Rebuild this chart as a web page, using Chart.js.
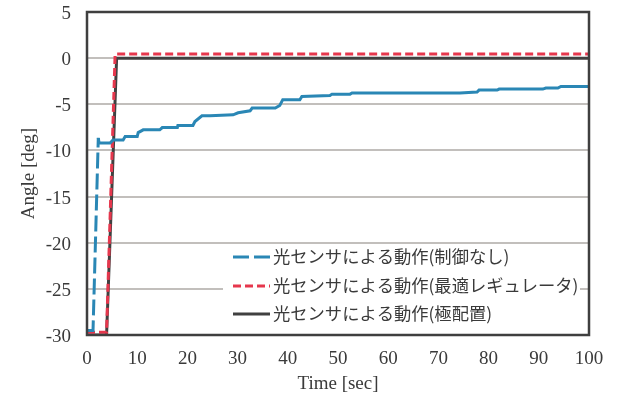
<!DOCTYPE html>
<html lang="ja">
<head>
<meta charset="utf-8">
<title>Angle response</title>
<script src="https://cdn.jsdelivr.net/npm/chart.js@4.4.1/dist/chart.umd.min.js"></script>
<style>
  html, body { margin: 0; padding: 0; background: #ffffff; }
  #wrap { width: 619px; height: 399px; position: relative; }
</style>
</head>
<body>
<div id="wrap"><canvas id="chart"></canvas></div>
<script>
// Series labels
const seriesLabels = [
  '光センサによる動作(制御なし)',
  '光センサによる動作(最適レギュレータ)',
  '光センサによる動作(極配置)'
];

// Uncontrolled run: time [sec] and angle [deg]
const timeNoCtrl = [0, 1.2, 2.25, 2.4, 4.6, 5.2, 7.2, 7.6, 10.0, 10.2, 11.2, 14.5, 15.0, 18.0, 18.1, 21.1, 21.5, 22.9, 24.5, 29.1, 30.1, 32.5, 32.9, 37.5, 38.4, 39.0, 42.4, 42.8, 48.4, 48.8, 52.4, 52.8, 74.3, 77.7, 78.1, 81.7, 82.1, 90.8, 91.4, 93.8, 94.4, 100];
const angleNoCtrl = [-29.5, -29.5, -8.64, -9.2, -9.2, -8.86, -8.86, -8.5, -8.5, -8.07, -7.77, -7.77, -7.52, -7.52, -7.3, -7.3, -6.87, -6.25, -6.25, -6.14, -5.92, -5.7, -5.41, -5.41, -5.13, -4.5, -4.5, -4.15, -4.05, -3.9, -3.9, -3.78, -3.78, -3.67, -3.46, -3.46, -3.35, -3.35, -3.24, -3.24, -3.07, -3.07];

// Optimal regulator run
const timeLqr = [0, 3.9, 5.6, 100];
const angleLqr = [-29.7, -29.7, 0.45, 0.45];

// Pole placement run
const timePole = [0, 3.9, 5.9, 100];
const anglePole = [-30, -30, 0, 0];

// Axis ticks
const xTicks = [0, 10, 20, 30, 40, 50, 60, 70, 80, 90, 100];
const yTicks = [5, 0, -5, -10, -15, -20, -25, -30];

const toPoints = (xs, ys) => xs.map((x, i) => ({ x: x, y: ys[i] }));

const serif = 'Liberation Serif, Times New Roman, serif';
const textColor = '#3a3a3a';

// Legend drawn inside the plot area, lower right, on a white panel
const innerLegend = {
  id: 'innerLegend',
  afterDatasetsDraw(chart) {
    const ctx = chart.ctx;
    const area = chart.chartArea;
    const boxLeft = 223, boxTop = 245;
    const boxRight = area.right - 9, boxBottom = area.bottom - 2;
    ctx.save();
    ctx.fillStyle = '#ffffff';
    ctx.fillRect(boxLeft, boxTop, boxRight - boxLeft, boxBottom - boxTop);
    const rows = [256, 285, 313];
    ctx.font = '17.3px "Noto Sans CJK JP", sans-serif';
    ctx.textBaseline = 'middle';
    ctx.textAlign = 'left';
    chart.data.datasets.forEach((ds, i) => {
      const y = rows[i];
      ctx.beginPath();
      ctx.setLineDash(ds.borderDash || []);
      ctx.lineDashOffset = 0;
      ctx.strokeStyle = ds.borderColor;
      ctx.lineWidth = ds.borderWidth;
      ctx.lineCap = 'butt';
      ctx.moveTo(233, y + 1);
      ctx.lineTo(270, y + 1);
      ctx.stroke();
      ctx.setLineDash([]);
      ctx.fillStyle = textColor;
      ctx.fillText(ds.label, 273, y);
    });
    ctx.restore();
  },
  afterDraw(chart) {
    // Plot frame
    const ctx = chart.ctx;
    const a = chart.chartArea;
    ctx.save();
    ctx.strokeStyle = '#3f3f3f';
    ctx.lineWidth = 2.5;
    ctx.strokeRect(a.left, a.top, a.right - a.left, a.bottom - a.top);
    ctx.restore();
  }
};

new Chart(document.getElementById('chart'), {
  type: 'line',
  data: {
    datasets: [
      {
        label: seriesLabels[0],
        data: toPoints(timeNoCtrl, angleNoCtrl),
        borderColor: '#2a87b5',
        borderWidth: 3,
        borderDash: [16, 5],
        segment: {
          borderDash: ctx => (ctx.p0DataIndex >= 2 ? [] : undefined)
        },
        pointRadius: 0,
        tension: 0,
        fill: false
      },
      {
        label: seriesLabels[1],
        data: toPoints(timeLqr, angleLqr),
        borderColor: '#e6374d',
        borderWidth: 3,
        borderDash: [8, 4],
        pointRadius: 0,
        tension: 0,
        fill: false
      },
      {
        label: seriesLabels[2],
        data: toPoints(timePole, anglePole),
        borderColor: '#404040',
        borderWidth: 3,
        pointRadius: 0,
        tension: 0,
        fill: false
      }
    ]
  },
  options: {
    responsive: true,
    maintainAspectRatio: false,
    animation: false,
    layout: { padding: { top: 12, right: 30, left: 0, bottom: 0 } },
    plugins: {
      legend: { display: false },
      tooltip: { enabled: false }
    },
    scales: {
      x: {
        type: 'linear',
        min: 0,
        max: 100,
        afterFit: s => { s.height = 64; s.paddingLeft = 0; s.paddingRight = 0; },
        afterBuildTicks: s => { s.ticks = xTicks.map(v => ({ value: v })); },
        grid: { display: false, drawTicks: false },
        border: { display: false },
        ticks: {
          padding: 13,
          color: textColor,
          font: { family: serif, size: 19 },
          maxRotation: 0
        },
        title: {
          display: true,
          text: 'Time [sec]',
          color: textColor,
          font: { family: serif, size: 19 },
          padding: { top: 4, bottom: 4 }
        }
      },
      y: {
        type: 'linear',
        min: -30,
        max: 5,
        afterFit: s => { s.width = 87; s.paddingTop = 0; s.paddingBottom = 0; },
        afterBuildTicks: s => { s.ticks = yTicks.map(v => ({ value: v })); },
        grid: { color: '#c2bfbc', lineWidth: 2, drawTicks: false },
        border: { display: false },
        ticks: {
          padding: 16,
          labelOffset: 2,
          color: textColor,
          font: { family: serif, size: 19 }
        },
        title: {
          display: true,
          text: 'Angle [deg]',
          color: textColor,
          font: { family: serif, size: 19 },
          padding: { top: 18, bottom: 4 }
        }
      }
    }
  },
  plugins: [innerLegend]
});
</script>
</body>
</html>
